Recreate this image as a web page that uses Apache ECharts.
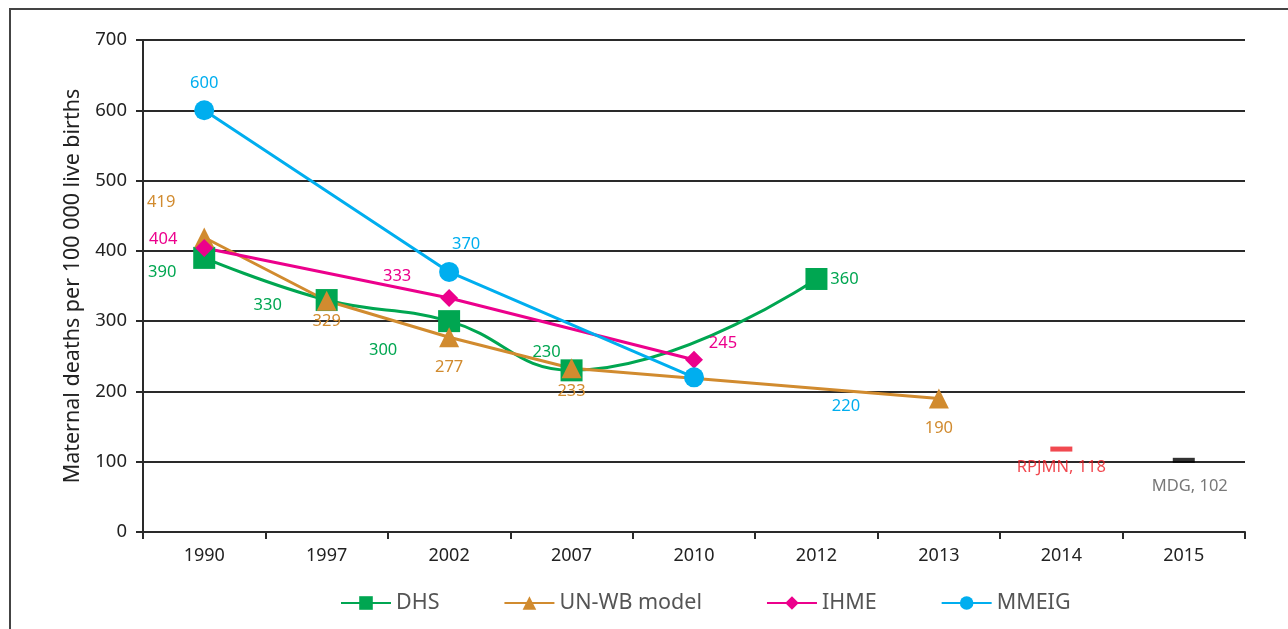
<!DOCTYPE html>
<html>
<head>
<meta charset="utf-8">
<script src="https://cdn.jsdelivr.net/npm/echarts@6/dist/echarts.min.js"></script>
<style>
  html, body { margin: 0; padding: 0; background: #fff; }
  #chart { width: 1288px; height: 629px; }
</style>
</head>
<body>
<div id="chart"></div>
<script>
const years = ['1990', '1997', '2002', '2007', '2010', '2012', '2013', '2014', '2015']
const yTicks = [0, 100, 200, 300, 400, 500, 600, 700]

const dhs = [390, 330, 300, 230, null, 360, null, null, null]
const unwb = [419, 329, 277, 233, null, null, 190, null, null]
const ihme = [404, null, 333, null, 245, null, null, null, null]
const mmeig = [600, null, 370, null, 220, null, null, null, null]
const rpjmn = [null, null, null, null, null, null, null, 118, null]
const mdg = [null, null, null, null, null, null, null, null, 102]

// label offsets from each point (px)
const dhsOff = [[-42, 14], [-59, 5], [-66, 29], [-25, -18], null, [28, 0]]
const unwbOff = [[-43, -35], [0, 21], [0, 30], [0, 23], null, null, [0, 30]]
const ihmeOff = [[-41, -9], null, [-52, -22], null, [29, -17]]
const mmeigOff = [[0, -27], null, [17, -28], null, [152, 29]]

const font = 'Noto Sans'
const axisColor = '#2a2a2a'

const withLabels = (values, offsets, color) =>
  values.map((v, i) => {
    if (v == null) return null
    const off = offsets[i] || [0, 0]
    return {
      value: v,
      label: { show: true, position: 'inside', offset: off, color, fontSize: 16.5, fontFamily: font }
    }
  })

const lineSeries = (name, values, offsets, color, symbol, size, smooth) => ({
  name,
  type: 'line',
  connectNulls: true,
  smooth,
  symbol,
  symbolSize: size,
  showAllSymbol: true,
  lineStyle: { color, width: 3 },
  itemStyle: { color },
  data: withLabels(values, offsets, color),
  z: 3
})

const chart = echarts.init(document.getElementById('chart'))

chart.setOption({
  animation: false,
  textStyle: { fontFamily: font },
  grid: { left: 143, right: 43, top: 40, bottom: 97 },
  legend: {
    data: ['DHS', 'UN-WB model', 'IHME', 'MMEIG'],
    left: 335,
    top: 587,
    itemWidth: 50,
    itemHeight: 17,
    itemGap: 64,
    textStyle: { color: '#555', fontSize: 21.5, fontFamily: font }
  },
  xAxis: {
    type: 'category',
    data: years,
    boundaryGap: true,
    axisLine: { lineStyle: { color: axisColor, width: 2 } },
    axisTick: { show: true, length: 7, lineStyle: { color: axisColor, width: 2 } },
    axisLabel: { color: '#222', fontSize: 18, margin: 15, fontFamily: font }
  },
  yAxis: {
    type: 'value',
    min: yTicks[0],
    max: yTicks[yTicks.length - 1],
    interval: 100,
    name: 'Maternal deaths per 100 000 live births',
    nameLocation: 'middle',
    nameGap: 58,
    nameTextStyle: { color: '#222', fontSize: 21.5, fontFamily: font },
    axisLine: { show: true, lineStyle: { color: axisColor, width: 2 } },
    axisTick: { show: true, length: 7, lineStyle: { color: axisColor, width: 2 } },
    axisLabel: { color: '#222', fontSize: 18.5, margin: 16, fontFamily: font },
    splitLine: { lineStyle: { color: axisColor, width: 2 } }
  },
  graphic: [{
    type: 'polyline',
    shape: { points: [[10, 629], [10, 9], [1288, 9]] },
    style: { stroke: '#444', lineWidth: 2, fill: null }
  }],
  series: [
    lineSeries('DHS', dhs, dhsOff, '#00A651', 'rect', 22, 0.45),
    lineSeries('UN-WB model', unwb, unwbOff, '#D18B2F', 'triangle', 20, false),
    lineSeries('IHME', ihme, ihmeOff, '#EC008C', 'diamond', 18, false),
    lineSeries('MMEIG', mmeig, mmeigOff, '#00AEEF', 'circle', 20, false),
    {
      name: 'RPJMN',
      type: 'scatter',
      symbol: 'rect',
      symbolSize: [22, 5],
      itemStyle: { color: '#ED1C24' },
      label: {
        show: true, position: 'inside', offset: [0, 18], color: '#ED1C24', fontSize: 16.5, fontFamily: font,
        formatter: p => 'RPJMN, ' + p.value
      },
      data: rpjmn
    },
    {
      name: 'MDG',
      type: 'scatter',
      symbol: 'rect',
      symbolSize: [22, 5],
      itemStyle: { color: '#000' },
      label: {
        show: true, position: 'inside', offset: [6, 26], color: '#555', fontSize: 16.5, fontFamily: font,
        formatter: p => 'MDG, ' + p.value
      },
      data: mdg
    }
  ]
})
</script>
</body>
</html>
